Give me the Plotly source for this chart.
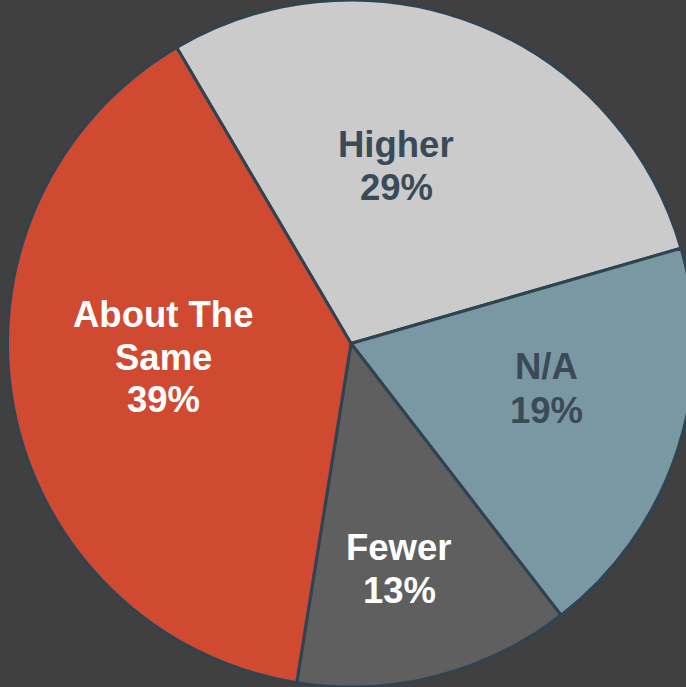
import plotly.graph_objects as go

# ---- data ----
labels = ["Higher", "N/A", "Fewer", "About The Same"]
label_lines = [["Higher"], ["N/A"], ["Fewer"], ["About The", "Same"]]
values = [29, 19, 13, 39]

# ---- style ----
colors = ["#CBCBCB", "#7A97A4", "#5F5F5F", "#D04A32"]
text_colors = ["#3A4B57", "#3A4B57", "#FFFFFF", "#FFFFFF"]
W, H = 702, 687
FONT = "Liberation Sans, Arial, sans-serif"
FONT_SIZE = 36.5
LINE_GAP = 43
# label block anchor (x center, baseline of first line) in pixels
label_anchor = [(396, 157), (546, 380), (399, 560), (163, 327)]

fig = go.Figure(go.Pie(
    labels=labels,
    values=values,
    sort=False,
    direction="clockwise",
    rotation=-30.5,
    textinfo="none",
    marker=dict(colors=colors, line=dict(color="#2F4350", width=3)),
    showlegend=False,
    hoverinfo="label+percent",
))

total = sum(values)
for lines, v, col, (ax, ay) in zip(label_lines, values, text_colors, label_anchor):
    all_lines = lines + [f"{round(100 * v / total)}%"]
    for i, t in enumerate(all_lines):
        base = ay + i * LINE_GAP
        fig.add_annotation(
            x=ax / W, y=1 - (base - 13) / H, xref="paper", yref="paper",
            text=f"<b>{t}</b>", showarrow=False,
            xanchor="center", yanchor="middle",
            font=dict(family=FONT, size=FONT_SIZE, color=col),
        )

fig.update_layout(
    width=W, height=H,
    margin=dict(l=0, r=0, t=0, b=0),
    paper_bgcolor="#404040",
    plot_bgcolor="#404040",
)

fig.write_html(
    "out.html",
    config={"displayModeBar": False},
    post_script="document.body.style.margin='0';document.body.style.overflow='hidden';document.documentElement.style.overflow='hidden';document.body.style.background='#404040';",
)
